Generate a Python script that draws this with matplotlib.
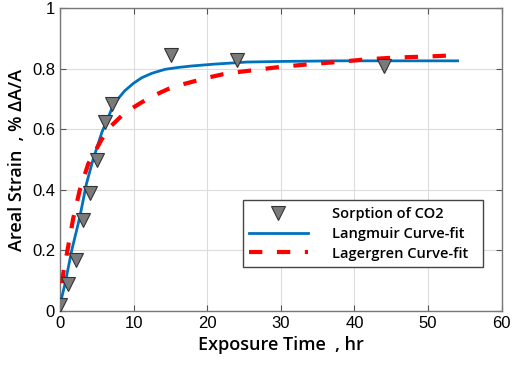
import matplotlib
matplotlib.use('Agg')
import matplotlib.pyplot as plt

# measured sorption points
t_data      = [0.0, 1.1, 2.2, 3.2, 4.1, 5.0, 6.1, 7.1, 15.1, 24.0, 44.0]
strain_data = [0.02, 0.09, 0.17, 0.30, 0.39, 0.50, 0.625, 0.685, 0.845, 0.83, 0.81]

# curve-fit traces
t_lang      = [0.0, 0.7, 1.6, 2.7, 3.6, 4.5, 5.7, 7.0, 7.8, 8.8, 10.0, 11.1, 12.5, 14.3, 16.0, 17.9, 20.9, 25.4, 30.0, 38.0, 46.0, 54.0]
strain_lang = [0.02, 0.09, 0.20, 0.31, 0.42, 0.50, 0.59, 0.665, 0.698, 0.727, 0.752, 0.77, 0.785, 0.798, 0.804, 0.809, 0.815, 0.822, 0.824, 0.826, 0.826, 0.826]

t_lag       = [0.0, 0.45, 1.1, 1.8, 2.7, 3.85, 5.7, 7.0, 8.4, 9.7, 11.1, 12.9, 14.7, 16.3, 18.0, 20.0, 22.2, 24.2, 26.3, 29.9, 34.0, 37.6, 41.7, 45.6, 49.7, 53.3, 54.0]
strain_lag  = [0.0, 0.124, 0.21, 0.305, 0.40, 0.486, 0.568, 0.612, 0.645, 0.668, 0.689, 0.713, 0.733, 0.746, 0.757, 0.770, 0.782, 0.789, 0.795, 0.806, 0.815, 0.822, 0.831, 0.837, 0.840, 0.844, 0.845]

fig = plt.figure(figsize=(5.12, 3.69), dpi=100)
ax = fig.add_axes([0.117, 0.157, 0.863, 0.821])

ax.plot(t_data, strain_data, 'v', ms=10.5, mfc='#7a7a7a', mec='#333333', mew=0.8,
        label='Sorption of CO2', zorder=4)
ax.plot(t_lang, strain_lang, color='#0072BD', lw=2.0, label='Langmuir Curve-fit', zorder=3)
ax.plot(t_lag, strain_lag, color='#FF0000', lw=3.0, dashes=(3.2, 3.5),
        label='Lagergren Curve-fit', zorder=3)

ax.set_xlim(0, 60)
ax.set_ylim(0, 1)
ax.set_xticks([0, 10, 20, 30, 40, 50, 60])
ax.set_yticks([0, 0.2, 0.4, 0.6, 0.8, 1])
ax.set_yticklabels(['0', '0.2', '0.4', '0.6', '0.8', '1'])
ax.grid(True, color='#dcdcdc', lw=0.8)
ax.set_axisbelow(True)
ax.tick_params(direction='in', top=True, right=True, length=4, width=0.8,
               color='#555555', labelsize=12)
for lbl in ax.get_xticklabels() + ax.get_yticklabels():
    lbl.set_family('Liberation Sans')
for s in ax.spines.values():
    s.set_color('#777777')
    s.set_linewidth(1.0)

ax.set_xlabel('Exposure Time  , hr', fontsize=13, family='Open Sans', weight=600, labelpad=4)
ax.set_ylabel('Areal Strain  , % ΔA/A', fontsize=13, family='Open Sans', weight=600, labelpad=4)

leg = ax.legend(loc='lower right', bbox_to_anchor=(0.957, 0.145), fancybox=False,
                framealpha=1, edgecolor='#444444',
                prop={'family': 'Open Sans', 'size': 10.5, 'weight': 600},
                handlelength=4.0, borderpad=0.45, labelspacing=0.4, handletextpad=1.7,
                borderaxespad=0)
leg.get_frame().set_linewidth(1.0)
for txt in leg.get_texts():
    txt.set_text(txt.get_text() + '  ')

fig.savefig('out.png', dpi=100)
